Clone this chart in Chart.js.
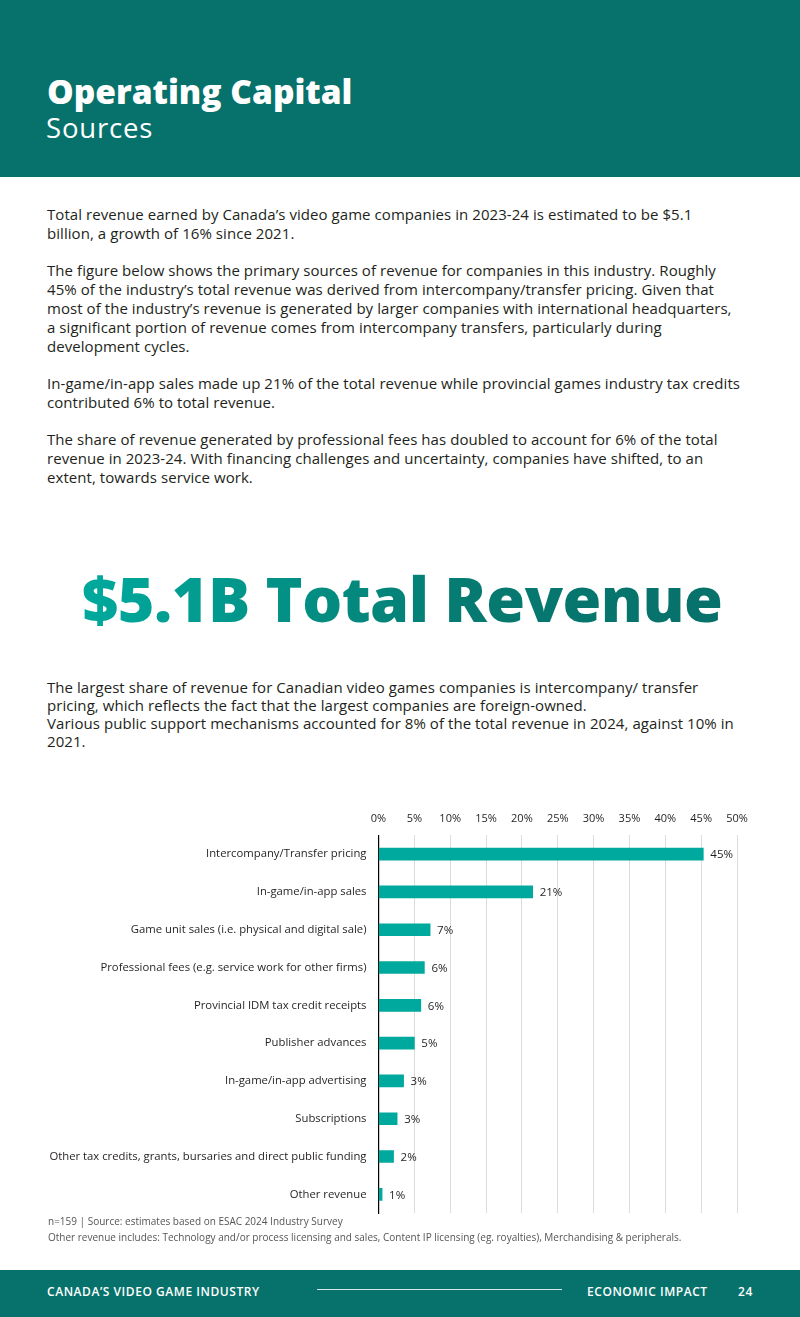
<!DOCTYPE html>
<html>
<head>
<meta charset="utf-8">
<script src="https://cdn.jsdelivr.net/npm/chart.js@4/dist/chart.umd.min.js"></script>
<style>
  html, body { margin:0; padding:0; width:800px; height:1317px; background:#fff; overflow:hidden; }
  body { position:relative; font-family:"Open Sans", sans-serif; color:#231f20; }
  .header { position:absolute; left:0; top:0; width:800px; height:177px; background:#07726b; }
  .h1 { position:absolute; left:47px; top:71px; font-family:"Open Sans"; font-weight:800; font-size:33.5px; color:#fff; line-height:40px; white-space:nowrap; }
  .h2 { position:absolute; left:46px; top:111px; font-family:"Open Sans"; font-weight:500; font-size:27.5px; color:#fff; line-height:34px; white-space:nowrap; letter-spacing:0.8px; }
  .body { position:absolute; left:47px; top:205px; font-size:15px; line-height:19px; white-space:nowrap; letter-spacing:0.06px; }
  .body p { margin:0 0 18px 0; }
  .big { position:absolute; left:82px; top:558px; width:650px; font-family:"Open Sans"; font-weight:800; font-size:62.8px; line-height:80px; white-space:nowrap;
         background:linear-gradient(90deg,#00a99d 0%,#067a70 60%,#07706a 100%); -webkit-background-clip:text; background-clip:text; color:transparent; letter-spacing:-0.5px; }
  .body2 { position:absolute; left:47px; top:678px; font-size:15px; line-height:18px; white-space:nowrap; letter-spacing:0.06px; }
  #wrap { position:absolute; left:40px; top:802px; width:720px; height:430px; }
  .note { position:absolute; left:48px; font-size:10px; color:#555; white-space:nowrap; }
  .footer { position:absolute; left:0; top:1270px; width:800px; height:47px; background:#07726b; color:#fff; }
  .footer span { position:absolute; top:13px; font-size:12px; font-weight:600; letter-spacing:0.55px; }
  .footer .line { position:absolute; left:317px; top:19px; width:245px; height:1px; background:#d8e8e6; }
</style>
</head>
<body>
<div class="header">
  <div class="h1">Operating Capital</div>
  <div class="h2">Sources</div>
</div>
<div class="body">
<p>Total revenue earned by Canada’s video game companies in 2023-24 is estimated to be $5.1<br>billion, a growth of 16% since 2021.</p>
<p>The figure below shows the primary sources of revenue for companies in this industry. Roughly<br>45% of the industry’s total revenue was derived from intercompany/transfer pricing. Given that<br>most of the industry’s revenue is generated by larger companies with international headquarters,<br>a significant portion of revenue comes from intercompany transfers, particularly during<br>development cycles.</p>
<p>In-game/in-app sales made up 21% of the total revenue while provincial games industry tax credits<br>contributed 6% to total revenue.</p>
<p>The share of revenue generated by professional fees has doubled to account for 6% of the total<br>revenue in 2023-24. With financing challenges and uncertainty, companies have shifted, to an<br>extent, towards service work.</p>
</div>
<div class="big">$5.1B Total Revenue</div>
<div class="body2">The largest share of revenue for Canadian video games companies is intercompany/ transfer<br>pricing, which reflects the fact that the largest companies are foreign-owned.<br>Various public support mechanisms accounted for 8% of the total revenue in 2024, against 10% in<br>2021.</div>
<div id="wrap"><canvas id="c"></canvas></div>
<div class="note" style="top:1214px;">n=159 | Source: estimates based on ESAC 2024 Industry Survey</div>
<div class="note" style="top:1230px;">Other revenue includes: Technology and/or process licensing and sales, Content IP licensing (eg. royalties), Merchandising &amp; peripherals.</div>
<div class="footer">
  <span style="left:47px;">CANADA’S VIDEO GAME INDUSTRY</span>
  <div class="line"></div>
  <span style="left:587px;">ECONOMIC IMPACT</span>
  <span style="left:738px;">24</span>
</div>
<script>
const categories = [
  "Intercompany/Transfer pricing",
  "In-game/in-app sales",
  "Game unit sales (i.e. physical and digital sale)",
  "Professional fees (e.g. service work for other firms)",
  "Provincial IDM tax credit receipts",
  "Publisher advances",
  "In-game/in-app advertising",
  "Subscriptions",
  "Other tax credits, grants, bursaries and direct public funding",
  "Other revenue"
];
const shares = [45.3, 21.5, 7.2, 6.4, 5.9, 5.0, 3.5, 2.6, 2.1, 0.5];
const shareLabels = ["45%", "21%", "7%", "6%", "6%", "5%", "3%", "3%", "2%", "1%"];
const tickValues = [0, 5, 10, 15, 20, 25, 30, 35, 40, 45, 50];

const valueLabels = {
  id: 'valueLabels',
  afterDatasetsDraw(chart) {
    const ctx = chart.ctx;
    const meta = chart.getDatasetMeta(0);
    ctx.save();
    ctx.font = '11.5px "Open Sans"';
    ctx.fillStyle = '#231f20';
    ctx.textAlign = 'left';
    ctx.textBaseline = 'middle';
    meta.data.forEach((bar, i) => {
      ctx.fillText(shareLabels[i], bar.x + 7, bar.y + 1);
    });
    ctx.restore();
  }
};

new Chart(document.getElementById('c'), {
  type: 'bar',
  data: {
    labels: categories,
    datasets: [{
      data: shares,
      backgroundColor: '#00a99d',
      borderWidth: 0,
      barThickness: 12
    }]
  },
  options: {
    indexAxis: 'y',
    responsive: true,
    maintainAspectRatio: false,
    animation: false,
    layout: { padding: { top: 0, right: 23, bottom: 3, left: 0 } },
    plugins: { legend: { display: false }, tooltip: { enabled: false } },
    scales: {
      x: {
        position: 'top',
        min: 0, max: 50,
        afterBuildTicks(scale) { scale.ticks = tickValues.map(v => ({ value: v })); },
        ticks: {
          padding: 10,
          color: '#231f20',
          font: { family: '"Open Sans"', size: 11 },
          callback: (v) => v + '%'
        },
        grid: { color: '#dcdcdc', lineWidth: 1, drawTicks: false },
        border: { display: false }
      },
      y: {
        afterFit(scale) { scale.width = 338.5; },
        ticks: {
          padding: 12,
          color: '#231f20',
          font: { family: '"Open Sans"', size: 11.3 }
        },
        grid: { display: false, drawTicks: false },
        border: { display: true, color: '#000', width: 1.2 }
      }
    }
  },
  plugins: [valueLabels]
});
</script>
</body>
</html>
